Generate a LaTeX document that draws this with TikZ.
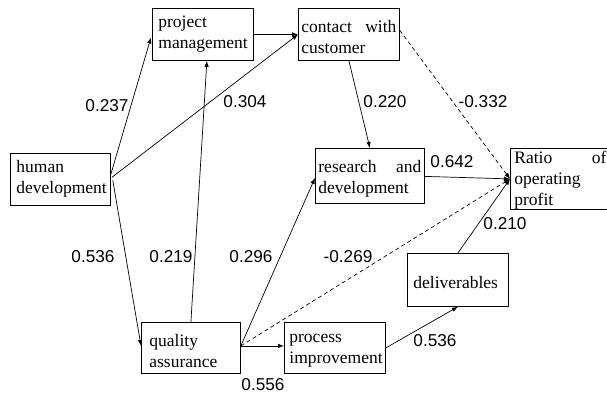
\documentclass[tikz,border=0pt]{standalone}
\usepackage{fontspec}
\setmainfont{Liberation Serif}
\newfontfamily\labfont{Liberation Sans}
\usetikzlibrary{arrows.meta,calc}
\newcommand{\bxt}[2]{\parbox[t]{#1}{\fontsize{17.5}{21}\selectfont #2}}
\tikzset{
  box/.style={draw, line width=0.8pt, rectangle, inner ysep=0pt, anchor=north west, align=left},
  lab/.style={font=\labfont\fontsize{17.2}{20}\selectfont, inner sep=0pt},
  arr/.style={-{Latex[length=6pt,width=4.5pt]}, line width=0.7pt},
  dsh/.style={arr, dash pattern=on 4pt off 3pt}
}
\begin{document}
\begin{tikzpicture}[x=1pt,y=-1pt]
\useasboundingbox (0,0) rectangle (607,396);
\clip (0,0) rectangle (607,396);
% boxes: top-left (x,y), width, height, padding, first baseline offset
\node[box, inner xsep=6pt, text height=19pt, text depth=33pt] (pm) at (152,8) {\bxt{89pt}{project\\management}};
\node[box, inner xsep=3pt, text height=24pt, text depth=28pt] (cc) at (298,8) {\bxt{95pt}{contact\hfill with\\customer}};
\node[box, inner xsep=6pt, text height=19pt, text depth=33pt] (hd) at (10,153) {\bxt{88pt}{human\\development}};
\node[box, inner xsep=3pt, text height=24pt, text depth=31pt] (rd) at (315,148) {\bxt{103pt}{research\hfill and\\development}};
\node[box, inner xsep=4pt, text height=15pt, text depth=46pt] (ro) at (510,148) {\bxt{92pt}{Ratio\hfill of\\operating\\profit}};
\node[box, inner xsep=8pt, text height=24pt, text depth=27pt] (qa) at (141,322) {\bxt{83pt}{quality\\assurance}};
\node[box, inner xsep=5pt, text height=20pt, text depth=31pt] (pi) at (284,322) {\bxt{91pt}{process\\improvement}};
\node[box, inner xsep=6pt, text height=35pt, text depth=18pt] (dl) at (407,253) {\bxt{89pt}{deliverables}};
% connectors
\draw[arr] ($(hd.east)+(0,-5)$) -- ($(pm.west)+(-1,3)$);
\draw[arr] ($(hd.east)+(1,-2)$) -- (cc.west);
\draw[arr] (pm.east) -- (cc.west);
\draw[arr] ($(hd.east)+(2,1)$) -- ($(qa.west)+(0,-2)$);
\draw[arr] (qa.north) -- ($(pm.south)+(4,0)$);
\draw[arr] ($(qa.east)+(0,-2)$) -- ($(rd.west)+(0,2)$);
\draw[arr] ($(qa.east)+(0,-2)$) -- ($(pi.west)+(0,-2)$);
\draw[dsh] ($(qa.east)+(0,-2)$) -- (ro.west);
\draw[arr] (cc.south) -- (rd.north);
\draw[dsh] ($(cc.east)+(0,-4)$) -- (ro.west);
\draw[arr] ($(rd.east)+(0,0.5)$) -- (ro.west);
\draw[arr] (dl.north) -- (ro.west);
\draw[arr] (pi.east) -- (dl.south);
% labels
\node[lab] (l1) at (107,106) {0.237};
\node[lab] (l2) at (245,102) {0.304};
\node[lab] (l3) at (385,102) {0.220};
\node[lab] (l4) at (483,102) {-0.332};
\node[lab] (l5) at (452,162) {0.642};
\node[lab] (l6) at (93,257) {0.536};
\node[lab] (l7) at (171,257) {0.219};
\node[lab] (l8) at (251,257) {0.296};
\node[lab] (l9) at (348,257) {-0.269};
\node[lab] (l10) at (505,224) {0.210};
\node[lab] (l11) at (435,341) {0.536};
\node[lab] (l12) at (263,385) {0.556};
\end{tikzpicture}
\end{document}
